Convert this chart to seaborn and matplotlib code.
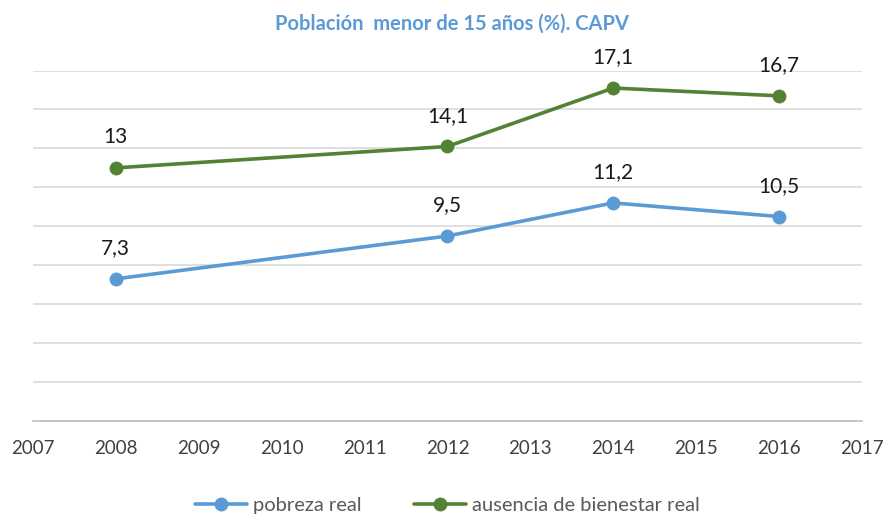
import matplotlib
matplotlib.use("Agg")
import matplotlib.pyplot as plt
import seaborn as sns
import pandas as pd

# data
years = [2008, 2012, 2014, 2016]
pobreza_real = [7.3, 9.5, 11.2, 10.5]
ausencia_bienestar = [13.0, 14.1, 17.1, 16.7]
labels_pobreza = ["7,3", "9,5", "11,2", "10,5"]
labels_ausencia = ["13", "14,1", "17,1", "16,7"]
x_ticks = list(range(2007, 2018))

BLUE = "#5B9BD5"
GREEN = "#548235"

df = pd.DataFrame({
    "year": years * 2,
    "value": pobreza_real + ausencia_bienestar,
    "serie": ["pobreza real"] * 4 + ["ausencia de bienestar real"] * 4,
})

sns.set_style("white")
plt.rcParams["font.family"] = ["Lato", "DejaVu Sans"]

fig = plt.figure(figsize=(8.9, 5.17), dpi=100)
ax = fig.add_axes([0.037, 0.1857, 0.9315, 0.6779])

sns.lineplot(data=df, x="year", y="value", hue="serie",
             palette={"pobreza real": BLUE, "ausencia de bienestar real": GREEN},
             marker="o", markersize=10, markeredgewidth=0, linewidth=2.6,
             ax=ax, legend=True)

for x, y, t in zip(years, pobreza_real, labels_pobreza):
    ax.annotate(t, (x, y), xytext=(0, 15), textcoords="offset points",
                ha="center", va="bottom", fontsize=15, color="#1a1a1a")
for x, y, t in zip(years, ausencia_bienestar, labels_ausencia):
    ax.annotate(t, (x, y), xytext=(0, 15), textcoords="offset points",
                ha="center", va="bottom", fontsize=15, color="#1a1a1a")

ax.set_xlim(2007, 2017)
ax.set_ylim(0, 18)
ax.set_xticks(x_ticks)
ax.set_xticklabels([str(v) for v in x_ticks], fontsize=13.5, color="#404040")
ax.set_yticks(range(0, 19, 2))
ax.set_yticklabels([])
ax.tick_params(axis="both", length=0)
ax.tick_params(axis="x", pad=14)
ax.grid(axis="y", color="#d9d9d9", linewidth=1.2)
ax.set_axisbelow(True)
for s in ["top", "right", "left"]:
    ax.spines[s].set_visible(False)
ax.spines["bottom"].set_color("#bfbfbf")
ax.spines["bottom"].set_linewidth(1.2)
ax.set_xlabel("")
ax.set_ylabel("")

fig.text(0.508, 0.955, "Población  menor de 15 años (%). CAPV", ha="center",
         va="center", fontsize=14.5, fontweight="bold", color=BLUE)

leg = ax.legend(loc="upper center", bbox_to_anchor=(0.5, -0.165), ncol=2,
                frameon=False, fontsize=14.5, handlelength=2.6,
                columnspacing=2.6, handletextpad=0.3)
for t in leg.get_texts():
    t.set_color("#595959")

fig.savefig("out.png", dpi=100)
